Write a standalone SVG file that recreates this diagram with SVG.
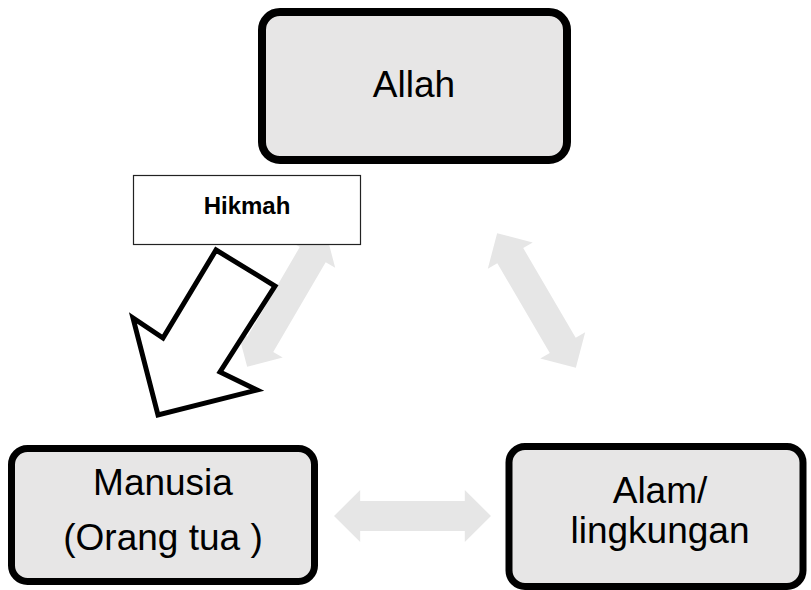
<svg xmlns="http://www.w3.org/2000/svg" width="811" height="590" viewBox="0 0 811 590">
  <defs>
    <style>
      .node { fill: #e7e6e6; stroke: #000; stroke-width: 8; }
      .label { font-family: "Liberation Sans", Arial, sans-serif; font-size: 37px; fill: #000; text-anchor: middle; }
      .tag { font-family: "Liberation Sans", Arial, sans-serif; font-size: 24px; font-weight: bold; fill: #000; text-anchor: middle; }
      .link { fill: #e6e6e6; stroke: none; }
    </style>
    <!-- double-headed block arrow, centred on the origin, pointing along x -->
    <polygon id="dbl" points="-78,0 -52,-26 -52,-15 52,-15 52,-26 78,0 52,26 52,15 -52,15 -52,26"/>
  </defs>

  <rect width="811" height="590" fill="#fff"/>

  <!-- connectors -->
  <g id="connectors">
    <use href="#dbl" class="link" transform="translate(286.5,299.5) rotate(-59.7)"/>
    <use href="#dbl" class="link" transform="translate(536.5,300.5) rotate(59.7)"/>
    <use href="#dbl" class="link" transform="translate(412.5,516) scale(1.006,1)"/>
  </g>

  <g id="node-allah">
    <rect class="node" x="262" y="12" width="305" height="148" rx="18"/>
    <text class="label" x="414" y="97">Allah</text>
  </g>

  <g id="node-manusia">
    <rect class="node" x="11.5" y="448.5" width="303" height="133" rx="16" style="stroke-width:7"/>
    <text class="label" x="163" y="495">Manusia</text>
    <text class="label" x="163" y="550">(Orang tua )</text>
  </g>

  <g id="node-alam">
    <rect class="node" x="509" y="446.5" width="294" height="140" rx="16" style="stroke-width:7"/>
    <text class="label" x="660" y="503">Alam/</text>
    <text class="label" x="660" y="543">lingkungan</text>
  </g>

  <g id="node-hikmah">
    <rect x="133.5" y="175.5" width="227" height="69" fill="#fff" stroke="#222" stroke-width="1.2"/>
    <text class="tag" x="247" y="214">Hikmah</text>
  </g>

  <!-- hollow arrow from Hikmah down to Manusia -->
  <g id="hikmah-arrow">
    <polygon points="216,250 275,286 220,372 257,390 158,415 133,318 163,338"
             fill="#fff" stroke="#000" stroke-width="5" stroke-linejoin="miter"/>
  </g>
</svg>
